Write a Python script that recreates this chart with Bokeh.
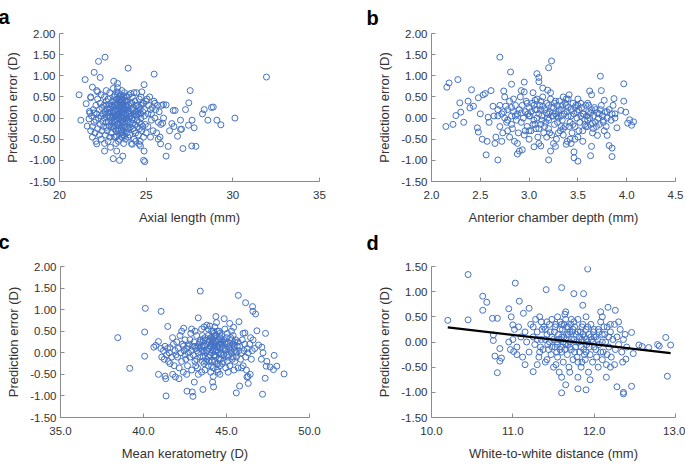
from bokeh.plotting import figure
from bokeh.layouts import column, row
from bokeh.models import Range1d, Label
from bokeh.embed import file_html
from bokeh.resources import INLINE

FONT = "Liberation Sans"
BLUE = "#4472C4"
AXIS_GRAY = "#8c8c8c"
TEXT = "#333333"

# ---------------- data ----------------
# a: axial length (mm) vs prediction error (D)
axial_pts = [
    (21.13, 0.55), (21.23, -0.05), (21.48, 0.91), (21.54, 0.34), (21.6, -0.19), (21.73, 0.16), (21.8, 0.48),
    (21.9, 0.73), (22.0, 1.08), (22.15, 0.65), (22.25, 1.34), (22.35, 0.96), (22.63, 1.44), (23.96, 1.18),
    (25.46, 1.04), (24.88, 0.79), (23.13, 0.87), (23.35, 0.82), (22.15, -0.61), (22.6, -0.78), (22.94, -0.69),
    (23.1, -0.96), (23.3, -0.78), (23.46, -1.0), (23.65, -0.9), (24.67, -0.66), (24.88, -0.78), (24.85, -1.0),
    (24.92, -1.03), (26.15, -0.9), (26.27, -0.67), (25.83, -0.61), (26.0, 0.32), (26.15, 0.31), (26.56, 0.18),
    (26.67, 0.18), (26.98, -0.05), (27.27, 0.2), (27.46, 0.36), (27.54, 0.65), (27.44, -0.17), (27.65, -0.05),
    (27.77, -0.23), (27.63, -0.66), (27.87, -0.67), (27.12, -0.72), (26.81, -0.43), (26.98, -0.27), (26.35, -0.3),
    (26.48, -0.13), (26.6, -0.2), (28.25, 0.1), (28.35, 0.2), (28.56, -0.05), (28.77, 0.25), (28.87, 0.26),
    (29.08, -0.05), (29.31, -0.16), (30.12, 0.0), (31.94, 0.97), (27.04, -0.26),
    (21.7, -0.02), (21.75, 0.12), (21.8, -0.3), (21.85, 0.05), (21.9, -0.45), (21.95, 0.2), (22.0, -0.1),
    (21.9, -0.2), (22.0, 0.12), (21.8, 0.5),
    (22.05, -0.35), (22.1, 0.3), (22.1, -0.05), (22.15, 0.1), (22.2, -0.25), (22.2, 0.45), (22.25, 0.0),
    (22.3, -0.4), (22.3, 0.2), (22.35, 0.35), (22.35, -0.15), (22.4, 0.05), (22.4, -0.5), (22.45, 0.25),
    (22.45, -0.3), (22.5, 0.1), (22.5, -0.08), (22.2, 0.62), (22.1, -0.55), (22.4, 0.55),
    (22.55, 0.3), (22.55, -0.2), (22.6, 0.0), (22.6, 0.5), (22.65, -0.4), (22.65, 0.15), (22.7, -0.1),
    (22.7, 0.4), (22.75, 0.22), (22.75, -0.3), (22.8, 0.05), (22.8, -0.55), (22.85, 0.32), (22.85, -0.18),
    (22.9, 0.12), (22.9, 0.6), (22.95, -0.05), (22.95, 0.25), (23.0, -0.35), (23.0, 0.15), (22.7, 0.65),
    (22.6, -0.6), (22.9, -0.45), (22.8, 0.45),
    (23.05, 0.0), (23.05, 0.4), (23.1, -0.2), (23.1, 0.25), (23.15, 0.1), (23.15, -0.45), (23.2, 0.55),
    (23.2, -0.1), (23.2, 0.3), (23.25, 0.05), (23.25, -0.3), (23.3, 0.2), (23.3, 0.45), (23.3, -0.05),
    (23.35, 0.35), (23.35, -0.25), (23.4, 0.1), (23.4, 0.6), (23.4, -0.15), (23.45, 0.25), (23.45, -0.5),
    (23.45, 0.0), (23.5, 0.4), (23.5, 0.15), (23.5, -0.35), (23.1, 0.7), (23.25, -0.6), (23.35, 0.72),
    (23.15, 0.5), (23.3, -0.42), (23.4, 0.3), (23.05, -0.1), (23.2, 0.15), (23.45, 0.5), (23.35, 0.05),
    (23.25, 0.38), (23.15, -0.25), (23.5, -0.1), (23.1, 0.05), (23.4, -0.55),
    (23.55, 0.2), (23.55, -0.05), (23.55, 0.55), (23.6, 0.3), (23.6, -0.2), (23.6, 0.08), (23.65, 0.45),
    (23.65, -0.4), (23.65, 0.15), (23.7, 0.0), (23.7, 0.35), (23.7, -0.3), (23.75, 0.22), (23.75, -0.1),
    (23.75, 0.6), (23.8, 0.1), (23.8, -0.5), (23.8, 0.4), (23.85, -0.2), (23.85, 0.28), (23.9, 0.05),
    (23.9, -0.35), (23.9, 0.5), (23.95, 0.15), (23.95, -0.08), (24.0, 0.3), (24.0, -0.25), (23.6, 0.65),
    (23.7, -0.6), (23.85, 0.0), (23.55, 0.38), (23.65, -0.1), (23.75, 0.42), (23.8, -0.02), (23.9, 0.2),
    (23.6, -0.45), (24.0, 0.55), (23.95, -0.45), (23.7, 0.18), (23.55, -0.28),
    (24.05, 0.1), (24.05, -0.4), (24.1, 0.35), (24.1, -0.1), (24.15, 0.2), (24.15, -0.6), (24.2, 0.5),
    (24.2, 0.0), (24.25, -0.25), (24.25, 0.25), (24.3, 0.1), (24.3, -0.5), (24.35, 0.4), (24.35, -0.15),
    (24.4, 0.15), (24.4, -0.35), (24.45, 0.6), (24.45, 0.05), (24.5, -0.2), (24.5, 0.3), (24.2, -0.62),
    (24.3, 0.6), (24.1, 0.58), (24.4, -0.55), (24.25, -0.05),
    (24.55, 0.1), (24.55, -0.4), (24.6, 0.45), (24.6, -0.1), (24.65, 0.2), (24.65, -0.55), (24.7, 0.0),
    (24.7, 0.3), (24.75, -0.3), (24.75, 0.62), (24.8, 0.15), (24.8, -0.2), (24.85, 0.35), (24.85, -0.45),
    (24.9, 0.05), (24.9, 0.2), (24.95, -0.15), (25.0, 0.4), (25.0, -0.35), (24.6, -0.62), (24.7, 0.5),
    (25.05, 0.45), (25.1, 0.1), (25.1, -0.2), (25.15, 0.3), (25.2, 0.5), (25.25, -0.45), (25.3, 0.1),
    (25.35, 0.25), (25.4, -0.3), (25.45, 0.4), (25.5, 0.0), (25.55, 0.2), (25.6, -0.35), (25.65, 0.3),
    (25.7, -0.1), (25.75, 0.15), (25.8, -0.45), (25.85, -0.15), (25.9, 0.3), (25.95, -0.12), (26.0, 0.0),
    (25.3, -0.05), (25.5, 0.35), (25.7, -0.5), (25.25, 0.2),
    (23.52, 0.05), (23.58, 0.12), (23.62, -0.12), (23.68, 0.25), (23.72, 0.5), (23.78, -0.22), (23.82, 0.3),
    (23.88, -0.05), (23.92, 0.38), (23.98, 0.02), (23.32, 0.1), (23.38, -0.12), (23.42, 0.42), (23.48, 0.22),
    (23.22, -0.18), (23.28, 0.32), (23.18, 0.42), (23.12, -0.05), (23.08, 0.18), (23.02, 0.3), (22.98, -0.2),
    (22.92, 0.02), (22.88, 0.22), (22.82, -0.08), (22.78, 0.12), (22.72, -0.22), (22.68, 0.3), (22.62, 0.08),
    (24.02, 0.12), (24.08, -0.22), (24.12, 0.05), (24.18, 0.35), (24.22, -0.12), (24.28, 0.18), (24.32, -0.3),
    (24.38, 0.08), (24.42, 0.3), (24.48, -0.05), (24.52, 0.15), (24.58, 0.25), (24.62, -0.25), (24.68, 0.1),
    (24.72, -0.15), (24.78, 0.35), (23.55, 0.45), (23.65, 0.32), (23.75, -0.42), (23.85, 0.52), (23.45, 0.12),
    (23.35, 0.55), (23.25, -0.45), (23.6, -0.35), (23.7, 0.08), (23.8, 0.22), (23.9, -0.25), (23.5, 0.28),
    (23.4, -0.3), (23.3, 0.62), (23.62, 0.42), (23.72, -0.18),
]

# b: anterior chamber depth (mm) vs prediction error (D)
acd_pts = [
    (2.147, -0.2), (2.157, 0.73), (2.18, 0.83), (2.27, 0.91), (2.29, 0.36), (2.3, 0.14), (2.22, -0.15),
    (2.25, 0.06), (2.33, -0.1), (2.375, 0.4), (2.394, 0.24), (2.41, 0.67), (2.43, 0.28), (2.48, 0.48),
    (2.47, -0.23), (2.48, -0.33), (2.5, 0.1), (2.53, 0.55), (2.55, 0.58), (2.52, -0.5), (2.56, -0.87),
    (2.57, -0.55), (2.59, -0.1), (2.61, 0.65), (2.63, 0.28), (2.64, 0.05), (2.65, -0.6), (2.68, -0.99),
    (2.7, 1.44), (2.74, 0.64), (2.81, 1.09), (2.82, 0.8), (2.92, 0.65), (2.95, 0.85), (3.08, 1.05),
    (3.1, 0.96), (3.1, 0.86), (3.2, 1.19), (3.23, 1.35), (3.14, 0.71), (3.19, 0.66), (3.2, -0.99),
    (3.22, -0.78), (3.27, -0.67), (3.46, -0.8), (3.46, -0.94), (3.5, -1.02), (3.62, 0.64), (3.64, 0.55),
    (3.64, -0.67), (3.63, -0.89), (3.73, 0.99), (3.74, 0.65), (3.7, -0.41), (3.77, 0.42), (3.8, -0.41),
    (3.82, -0.65), (3.85, -0.71), (3.85, -0.91), (3.87, 0.46), (3.88, 0.1), (3.9, -0.23), (3.94, 0.18),
    (3.97, 0.81), (3.97, 0.4), (3.99, 0.14), (4.01, -0.12), (4.03, -0.04), (4.05, -0.17), (4.07, -0.09),
    (2.88, -0.85), (2.9, -0.78), (3.05, -0.68), (3.12, -0.66), (3.38, -0.62), (3.42, -0.5), (2.58, 0.02),
    (2.66, -0.45), (2.68, 0.05), (2.7, -0.2), (2.7, 0.3), (2.72, 0.1), (2.73, -0.35), (2.75, 0.5),
    (2.75, 0.0), (2.77, -0.1), (2.78, 0.2), (2.8, -0.45), (2.8, 0.4), (2.82, 0.05), (2.83, -0.25),
    (2.84, 0.15), (2.85, -0.55), (2.86, 0.3), (2.87, -0.05), (2.88, 0.1), (2.89, -0.35), (2.9, 0.2),
    (2.72, -0.55), (2.78, -0.3), (2.84, 0.45), (2.88, -0.6), (2.68, 0.2), (2.76, 0.28), (2.82, -0.15),
    (2.91, 0.5), (2.92, -0.1), (2.93, 0.3), (2.94, 0.0), (2.95, -0.4), (2.96, 0.15), (2.97, 0.4),
    (2.98, -0.2), (2.99, 0.1), (3.0, -0.5), (3.0, 0.25), (3.01, 0.05), (3.02, -0.3), (3.03, 0.35),
    (3.04, 0.6), (3.05, -0.05), (3.06, 0.2), (3.07, -0.25), (3.08, 0.45), (3.08, 0.0), (3.09, -0.45),
    (3.1, 0.1), (3.11, 0.3), (3.12, -0.15), (3.13, 0.05), (3.14, 0.5), (3.15, -0.35), (2.93, -0.75),
    (3.0, -0.3), (3.05, 0.3), (3.1, -0.6), (3.12, 0.2), (2.95, 0.62), (3.06, -0.15), (2.98, 0.35),
    (3.13, -0.05),
    (3.16, 0.2), (3.17, -0.1), (3.18, 0.35), (3.19, 0.0), (3.2, -0.25), (3.21, 0.15), (3.22, 0.45),
    (3.23, -0.4), (3.24, 0.05), (3.25, 0.25), (3.26, -0.15), (3.27, 0.1), (3.28, -0.5), (3.29, 0.3),
    (3.3, 0.0), (3.31, 0.4), (3.32, -0.3), (3.33, 0.2), (3.34, -0.05), (3.35, 0.5), (3.36, 0.1),
    (3.37, -0.2), (3.38, 0.3), (3.39, -0.55), (3.4, 0.05), (3.41, 0.55), (3.42, -0.1), (3.43, 0.2),
    (3.44, -0.35), (3.45, 0.35), (3.2, 0.3), (3.25, -0.6), (3.3, 0.15), (3.35, -0.4), (3.4, 0.25),
    (3.18, -0.45), (3.22, 0.6), (3.28, 0.05), (3.33, -0.2), (3.38, 0.45), (3.43, -0.6), (3.26, 0.35),
    (3.46, 0.1), (3.47, -0.2), (3.48, 0.3), (3.49, 0.0), (3.5, -0.45), (3.51, 0.2), (3.52, -0.1),
    (3.53, 0.05), (3.54, 0.25), (3.55, -0.3), (3.56, 0.1), (3.57, -0.05), (3.58, 0.3), (3.6, -0.2),
    (3.61, 0.15), (3.62, 0.0), (3.63, -0.15), (3.64, 0.2), (3.65, -0.35), (3.66, 0.05), (3.67, 0.25),
    (3.68, -0.1), (3.7, 0.12), (3.5, 0.45), (3.55, -0.55), (3.6, 0.35), (3.65, -0.12), (3.47, -0.5),
    (3.58, -0.2), (3.69, -0.2),
    (3.71, 0.0), (3.72, -0.15), (3.73, 0.2), (3.75, 0.05), (3.76, -0.1), (3.78, 0.15), (3.79, -0.2),
    (3.8, 0.0), (3.82, 0.2), (3.84, -0.05), (3.85, 0.1), (3.86, 0.3), (3.88, 0.0), (3.74, 0.3), (3.77, -0.3),
    (2.92, 0.12), (2.96, -0.3), (3.02, 0.15), (3.06, 0.42), (3.1, -0.25), (3.14, 0.28), (3.16, -0.2),
    (3.18, 0.12), (3.21, -0.35), (3.23, 0.25), (3.25, 0.05), (3.27, 0.4), (3.29, -0.1), (3.31, 0.2),
    (3.33, 0.05), (3.35, -0.25), (3.37, 0.35), (3.39, 0.15), (3.41, -0.2), (3.43, 0.05), (3.45, -0.15),
    (3.47, 0.25), (3.49, 0.15), (3.51, -0.3), (3.53, 0.35), (3.55, 0.1), (3.57, -0.15), (3.59, 0.05),
    (3.61, 0.3), (3.63, 0.12), (3.66, -0.25), (3.68, 0.2), (3.72, 0.1), (3.76, -0.05), (3.8, 0.15),
    (2.86, 0.05), (2.82, 0.25), (2.78, -0.05), (2.74, 0.15), (3.0, 0.05), (3.04, -0.15), (3.08, 0.2),
    (3.12, 0.4), (3.2, 0.1), (3.3, -0.35), (3.4, 0.45), (3.5, 0.3), (3.6, -0.05), (3.2, -0.05), (3.34, 0.3),
]

# c: mean keratometry (D) vs prediction error (D)
k_pts = [
    (38.45, 0.35), (39.17, -0.36), (40.07, 0.48), (40.11, 1.03), (40.07, -0.08), (40.62, 0.13), (40.74, 0.17),
    (40.9, 0.26), (41.06, 0.96), (40.9, -0.5), (41.3, -0.54), (41.34, -0.6), (41.36, -1.0), (41.46, 0.61),
    (41.76, -0.5), (41.92, -0.56), (42.14, -0.6), (42.42, 0.57), (42.62, -0.89), (42.94, -0.91), (42.98, -1.01),
    (43.06, -0.68), (43.3, 0.81), (43.42, 1.43), (43.58, -0.85), (43.82, 0.64), (44.16, -0.68), (44.22, -0.79),
    (44.36, 0.84), (44.86, 0.79), (45.19, 0.68), (45.43, 0.59), (45.59, -0.93), (45.71, 1.33), (45.75, 0.72),
    (45.79, -0.77), (46.11, 0.46), (46.15, 1.16), (46.23, -0.56), (46.31, -0.71), (46.43, -0.5), (46.57, 1.07),
    (46.59, 0.96), (46.75, 0.9), (46.83, 0.51), (46.93, 0.18), (47.13, 0.13), (47.17, -0.96), (47.33, -0.59),
    (47.35, 0.45), (47.39, -0.31), (47.43, -0.2), (47.63, -0.33), (47.83, -0.39), (47.87, -0.06), (48.03, -0.31),
    (48.47, -0.49), (47.2, 0.0), (47.1, -0.15),
    (41.05, 0.1), (41.1, -0.1), (41.2, 0.05), (41.25, -0.15), (41.3, 0.15), (41.4, -0.05), (41.45, 0.1),
    (41.5, -0.2), (41.55, 0.0), (41.6, 0.12), (41.7, -0.1), (41.75, 0.35), (41.8, 0.2), (41.85, -0.3),
    (41.9, 0.05), (41.95, -0.05), (41.6, -0.25),
    (42.0, 0.25), (42.05, -0.1), (42.1, 0.1), (42.15, -0.35), (42.2, 0.4), (42.25, 0.0), (42.3, -0.2),
    (42.35, 0.2), (42.4, -0.45), (42.45, 0.05), (42.5, 0.3), (42.55, -0.15), (42.6, 0.1), (42.65, -0.3),
    (42.7, 0.0), (42.75, 0.2), (42.8, -0.1), (42.85, 0.45), (42.9, -0.4), (42.95, 0.15), (43.0, -0.05),
    (42.4, 0.15), (42.6, -0.5), (42.8, 0.3), (42.3, 0.5), (42.9, 0.55),
    (43.05, 0.25), (43.1, -0.2), (43.15, 0.1), (43.2, 0.4), (43.25, -0.35), (43.3, 0.0), (43.35, 0.2),
    (43.4, -0.1), (43.45, 0.3), (43.5, -0.45), (43.55, 0.05), (43.6, 0.15), (43.65, -0.25), (43.7, 0.35),
    (43.75, 0.0), (43.1, 0.5), (43.3, -0.5), (43.5, 0.55), (43.6, -0.1), (43.2, 0.05), (43.4, 0.25),
    (43.7, -0.4), (43.15, -0.3), (43.55, 0.4), (43.65, 0.6),
    (43.8, 0.2), (43.8, -0.15), (43.85, 0.05), (43.9, 0.4), (43.9, -0.3), (43.95, 0.1), (44.0, -0.05),
    (44.0, 0.3), (44.05, 0.15), (44.05, -0.45), (44.1, 0.5), (44.1, 0.0), (44.15, -0.2), (44.15, 0.25),
    (44.2, 0.1), (44.2, -0.35), (44.25, 0.35), (44.25, -0.05), (44.3, 0.6), (44.3, 0.2), (44.35, -0.1),
    (44.35, 0.05), (44.4, 0.4), (44.4, -0.25), (44.45, 0.15), (44.45, -0.4), (44.5, 0.3), (44.5, 0.0),
    (44.55, -0.15), (44.55, 0.5), (44.6, 0.1), (44.6, -0.3), (44.65, 0.25), (44.7, -0.05), (44.7, 0.4),
    (44.75, 0.15), (44.0, 0.62), (44.2, -0.55), (44.4, 0.7), (44.6, -0.5), (43.95, -0.2), (44.25, 0.45),
    (44.5, -0.45), (44.1, 0.2), (44.3, -0.2), (44.65, 0.0),
    (44.8, -0.2), (44.85, 0.3), (44.9, 0.05), (44.95, -0.35), (45.0, 0.2), (45.05, 0.45), (45.1, -0.1),
    (45.15, 0.1), (45.2, -0.3), (45.25, 0.35), (45.3, 0.0), (45.35, -0.15), (45.4, 0.2), (45.45, -0.4),
    (45.5, 0.05), (45.55, 0.3), (45.6, -0.1), (45.65, 0.15), (45.7, -0.35), (45.75, 0.05), (44.9, 0.55),
    (45.1, -0.45), (45.3, 0.5), (45.5, -0.2), (45.7, 0.25), (45.0, -0.05), (45.4, 0.4), (45.6, 0.0),
    (45.8, 0.15), (45.85, -0.15), (45.9, 0.0), (45.95, 0.3), (46.0, -0.3), (46.05, 0.05), (46.1, 0.2),
    (46.15, -0.1), (46.2, -0.4), (46.25, 0.1), (46.3, 0.0), (46.4, 0.2), (46.5, -0.15), (46.55, 0.05),
    (46.6, 0.3), (46.7, 0.1), (46.0, 0.45), (46.3, -0.55), (46.45, 0.35), (45.9, -0.35),
    (43.8, 0.05), (43.85, 0.3), (43.9, -0.1), (43.95, 0.25), (44.0, 0.15), (44.05, 0.35), (44.1, -0.3),
    (44.15, 0.05), (44.2, 0.3), (44.25, 0.15), (44.3, -0.05), (44.35, 0.25), (44.4, 0.05), (44.45, 0.5),
    (44.5, 0.15), (44.55, 0.2), (44.6, 0.35), (44.65, -0.15), (44.7, 0.2), (44.75, -0.25), (44.8, 0.1),
    (44.85, -0.05), (44.9, 0.25), (44.95, 0.1), (45.0, 0.35), (45.05, -0.2), (45.1, 0.25), (45.15, -0.05),
    (45.2, 0.15), (45.25, 0.05), (45.3, 0.3), (45.35, 0.1), (45.4, -0.1), (45.45, 0.15), (45.5, 0.25),
    (43.5, 0.15), (43.55, -0.2), (43.6, 0.3), (43.65, 0.05), (43.7, 0.15), (43.75, -0.2), (43.4, 0.1),
    (43.3, 0.15), (43.2, -0.15), (43.1, 0.15), (42.9, 0.05), (42.7, 0.15), (42.5, -0.05), (44.3, 0.4),
    (44.1, 0.35), (44.5, -0.25), (44.7, 0.3), (43.9, 0.55), (44.2, 0.5), (44.6, 0.45),
]

# d: white-to-white distance (mm) vs prediction error (D)
wtw_pts = [
    (10.2, 0.43), (10.45, 1.34), (10.45, 0.44), (10.63, 0.91), (10.63, 0.63), (10.68, 0.79), (10.75, 0.47),
    (10.81, 0.47), (10.76, 0.14), (10.76, 0.03), (10.78, -0.28), (10.81, -0.61), (10.84, -0.13), (10.84, -0.38),
    (10.86, -0.32), (10.95, 0.66), (10.98, 0.5), (11.0, 0.34), (11.01, -0.19), (11.03, 1.17), (11.08, 0.81),
    (11.13, 0.57), (11.2, 0.67), (11.25, -0.59), (11.41, 1.04), (11.6, 1.08), (11.6, -1.01), (11.65, -0.85),
    (11.75, 0.96), (11.87, 0.96), (11.86, 0.73), (11.92, 1.45), (11.8, -0.93), (11.9, -0.95), (12.08, 0.6),
    (12.17, 0.69), (12.26, 0.63), (12.28, -0.89), (12.36, -1.0), (12.36, -1.03), (12.46, -0.88), (12.46, 0.19),
    (12.48, -0.23), (12.39, -0.34), (12.88, 0.09), (12.9, -0.68), (12.94, -0.06), (12.78, -0.05), (12.8, -0.08),
    (12.67, -0.11), (12.59, -0.09), (12.55, -0.06),
    (10.95, 0.0), (10.97, -0.15), (11.0, 0.05), (11.02, 0.25), (11.05, -0.1), (11.07, 0.3), (11.1, 0.1),
    (11.12, -0.3), (11.15, 0.2), (11.17, 0.0), (11.2, -0.2), (11.22, 0.35), (11.25, 0.1), (11.15, -0.45),
    (11.05, -0.25),
    (11.27, -0.05), (11.28, 0.45), (11.3, 0.2), (11.32, -0.3), (11.33, 0.5), (11.35, 0.05), (11.37, -0.15),
    (11.38, 0.3), (11.4, -0.4), (11.42, 0.15), (11.43, -0.05), (11.45, 0.35), (11.47, -0.25), (11.48, 0.1),
    (11.5, -0.5), (11.3, -0.45), (11.35, 0.4), (11.45, 0.0), (11.4, 0.25), (11.33, -0.2), (11.48, 0.45),
    (11.42, -0.35),
    (11.51, 0.2), (11.52, -0.1), (11.53, 0.35), (11.54, 0.0), (11.55, -0.3), (11.56, 0.15), (11.57, -0.6),
    (11.58, 0.4), (11.59, 0.05), (11.6, -0.2), (11.61, 0.25), (11.62, -0.4), (11.63, 0.1), (11.64, 0.55),
    (11.65, -0.05), (11.66, 0.3), (11.67, -0.25), (11.68, 0.15), (11.69, -0.5), (11.7, 0.0), (11.71, 0.35),
    (11.72, -0.15), (11.73, 0.2), (11.74, -0.35), (11.75, 0.05), (11.55, 0.5), (11.6, -0.7), (11.65, 0.6),
    (11.7, -0.6), (11.58, -0.15), (11.63, 0.35), (11.68, -0.05), (11.53, -0.45), (11.72, 0.45), (11.6, 0.1),
    (11.76, 0.3), (11.77, -0.1), (11.78, 0.15), (11.79, -0.3), (11.8, 0.45), (11.81, 0.0), (11.82, -0.2),
    (11.83, 0.2), (11.84, -0.5), (11.85, 0.05), (11.86, 0.35), (11.87, -0.15), (11.88, 0.1), (11.89, -0.35),
    (11.9, 0.25), (11.91, -0.05), (11.92, 0.0), (11.93, -0.6), (11.94, 0.15), (11.95, -0.25), (11.96, 0.35),
    (11.97, 0.05), (11.98, -0.4), (11.99, 0.2), (12.0, -0.1), (11.8, -0.7), (11.9, 0.5), (11.95, -0.75),
    (11.85, -0.4),
    (12.02, 0.1), (12.03, -0.3), (12.05, 0.25), (12.06, -0.05), (12.08, 0.4), (12.1, 0.0), (12.11, -0.2),
    (12.13, 0.15), (12.15, -0.45), (12.16, 0.3), (12.18, -0.1), (12.2, 0.2), (12.21, -0.3), (12.23, 0.05),
    (12.25, 0.35), (12.26, -0.15), (12.28, 0.1), (12.3, -0.05), (12.32, 0.25), (12.34, -0.2), (12.36, 0.05),
    (12.38, 0.15), (12.4, -0.1), (12.05, -0.5), (12.2, -0.5), (12.1, 0.5), (12.3, 0.4), (12.15, -0.7),
    (12.25, -0.45), (12.35, -0.4),
    (11.5, 0.05), (11.52, 0.3), (11.54, -0.2), (11.56, 0.05), (11.58, 0.25), (11.6, 0.35), (11.62, 0.0),
    (11.64, -0.15), (11.66, 0.15), (11.68, 0.3), (11.7, -0.1), (11.72, 0.05), (11.74, 0.25), (11.76, -0.2),
    (11.78, 0.0), (11.8, 0.2), (11.82, 0.1), (11.84, -0.1), (11.86, 0.15), (11.88, -0.25), (11.9, 0.05),
    (11.92, 0.3), (11.94, -0.1), (11.96, 0.1), (11.98, 0.0), (12.0, 0.25), (12.02, -0.15), (12.04, 0.05),
    (12.06, 0.2), (12.08, -0.2), (12.1, 0.15), (12.12, 0.3), (12.14, 0.0), (12.16, -0.25), (12.18, 0.1),
    (12.2, 0.35), (11.4, 0.05), (11.42, 0.4), (11.44, -0.15), (11.46, 0.2), (11.48, -0.1), (11.36, 0.25),
    (11.34, -0.1), (11.3, 0.05), (11.25, 0.3), (11.65, 0.45), (11.75, 0.4), (11.85, 0.3), (11.7, 0.2),
    (11.6, -0.1), (11.8, -0.4), (11.9, -0.2), (12.0, 0.1), (12.1, -0.35), (11.55, -0.05),
]

# linear trend for panel d (error = intercept + slope * WTW)
wtw_trend_slope = -0.187
wtw_trend_intercept = 2.197

# axis ticks and labels
err_ticks = [-1.5, -1.0, -0.5, 0.0, 0.5, 1.0, 1.5, 2.0]
err_labels = ["-1.50", "-1.00", "-0.50", "0.00", "0.50", "1.00", "1.50", "2.00"]
err_ticks_d = [-1.5, -1.0, -0.5, 0.0, 0.5, 1.0, 1.5]
err_labels_d = ["-1.50", "-1.00", "-0.50", "0.00", "0.50", "1.00", "1.50"]
axial_ticks = [20, 25, 30, 35]
axial_labels = ["20", "25", "30", "35"]
acd_ticks = [2.0, 2.5, 3.0, 3.5, 4.0, 4.5]
acd_labels = ["2.0", "2.5", "3.0", "3.5", "4.0", "4.5"]
k_ticks = [35, 40, 45, 50]
k_labels = ["35.0", "40.0", "45.0", "50.0"]
wtw_ticks = [10, 11, 12, 13]
wtw_labels = ["10.0", "11.0", "12.0", "13.0"]

y_title = "Prediction error (D)"


def panel(letter, pts, xlabel, xticks, xlabels, yticks, ylabels, width, height,
          mbl, mbr, mbt, mbb, letter_dx, letter_dy):
    xs = [p[0] for p in pts]
    ys = [p[1] for p in pts]
    p = figure(width=width, height=height, output_backend="svg", toolbar_location=None,
               x_range=Range1d(xticks[0], xticks[-1]), y_range=Range1d(yticks[0], yticks[-1]),
               min_border_left=mbl, min_border_right=mbr, min_border_top=mbt, min_border_bottom=mbb,
               background_fill_color="white", border_fill_color="white")
    p.outline_line_color = None
    p.xgrid.grid_line_color = None
    p.ygrid.grid_line_color = None
    p.scatter(xs, ys, marker="circle", size=6, fill_color=None, line_color=BLUE, line_width=1)

    # panel letter, placed in the top side panel (outside the frame)
    p.add_layout(Label(x=letter_dx, y=letter_dy, x_units="screen", y_units="screen", text=letter,
                       text_font=FONT, text_font_style="bold", text_font_size="20px",
                       text_color="black", text_baseline="alphabetic", text_align="left"), "above")

    p.xaxis.ticker = xticks
    p.xaxis.major_label_overrides = dict(zip(xticks, xlabels))
    p.yaxis.ticker = yticks
    p.yaxis.major_label_overrides = dict(zip(yticks, ylabels))
    p.xaxis.axis_label = xlabel
    p.yaxis.axis_label = y_title
    for ax in (p.xaxis[0], p.yaxis[0]):
        ax.axis_line_color = AXIS_GRAY
        ax.axis_line_width = 1
        ax.major_tick_line_color = AXIS_GRAY
        ax.major_tick_in = 4
        ax.major_tick_out = 0
        ax.minor_tick_line_color = None
        ax.major_label_text_font = FONT
        ax.major_label_text_font_size = "11.5px"
        ax.major_label_text_color = TEXT
        ax.axis_label_text_font = FONT
        ax.axis_label_text_font_size = "13px"
        ax.axis_label_text_font_style = "normal"
        ax.axis_label_text_color = TEXT
    p.xaxis.major_label_standoff = 9
    p.xaxis.axis_label_standoff = 8
    p.yaxis.major_label_standoff = 4
    p.yaxis.axis_label_standoff = 6
    return p


pa = panel("a", axial_pts, "Axial length (mm)", axial_ticks, axial_labels, err_ticks, err_labels,
           340, 230, 59, 21, 33, 49, -61, 17)
pb = panel("b", acd_pts, "Anterior chamber depth (mm)", acd_ticks, acd_labels, err_ticks, err_labels,
           345, 230, 91, 10, 33, 49, -65, 16)
pc = panel("c", k_pts, "Mean keratometry (D)", k_ticks, k_labels, err_ticks, err_labels,
           340, 234, 60, 31, 36, 46, -62, 25)
pd_ = panel("d", wtw_pts, "White-to-white distance (mm)", wtw_ticks, wtw_labels, err_ticks_d, err_labels_d,
            345, 234, 91, 10, 35, 47, -65, 24)

wx = [min(p[0] for p in wtw_pts), max(p[0] for p in wtw_pts)]
wy = [wtw_trend_intercept + wtw_trend_slope * v for v in wx]
pd_.line(wx, wy, line_color="black", line_width=2.2)

layout = column(row(pa, pb), row(pc, pd_))
open("out.html", "w").write(file_html(layout, INLINE))
